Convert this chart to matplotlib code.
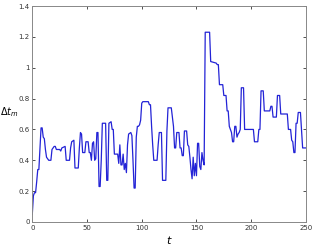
import matplotlib
matplotlib.use("Agg")
import matplotlib.pyplot as plt

t_vals = [0, 1, 2, 3, 4, 5, 6, 7, 8, 9, 10, 11, 12, 13, 14, 15, 17, 18, 19, 20, 21, 22, 25, 26, 27, 30,
          31, 34, 35, 36, 38, 39, 42, 43, 44, 45, 46, 48, 49, 51, 52, 53, 54, 55, 56, 57, 58, 59, 60,
          61, 62, 63, 64, 66, 67, 68, 69, 70, 72, 73, 74, 75, 78, 79, 80, 81, 82, 83, 84, 85, 86, 87,
          88, 90, 91, 92, 93, 94, 95, 96, 97, 98, 99, 100, 101, 106, 107, 108, 109, 110, 111, 114, 115,
          116, 118, 119, 122, 123, 124, 127, 128, 129, 130, 131, 132, 134, 135, 136, 137, 138, 139, 141,
          142, 143, 144, 145, 146, 147, 148, 149, 150, 151, 152, 153, 154, 155, 156, 157, 158, 162, 163,
          168, 169, 170, 171, 174, 175, 177, 178, 179, 180, 181, 182, 183, 184, 185, 186, 187, 188, 189,
          190, 191, 193, 194, 202, 203, 206, 207, 208, 209, 211, 212, 217, 218, 219, 220, 223, 224, 226,
          227, 233, 234, 236, 237, 238, 239, 240, 241, 242, 243, 245, 246, 247, 250]
dt_vals = [0.05, 0.17, 0.19, 0.19, 0.26, 0.34, 0.34, 0.48, 0.61, 0.61, 0.55, 0.54, 0.47, 0.42, 0.41, 0.40,
           0.40, 0.47, 0.48, 0.49, 0.49, 0.47, 0.47, 0.46, 0.48, 0.49, 0.40, 0.40, 0.48, 0.52, 0.53, 0.35,
           0.35, 0.48, 0.58, 0.57, 0.45, 0.45, 0.52, 0.52, 0.45, 0.45, 0.40, 0.51, 0.52, 0.40, 0.41, 0.58,
           0.58, 0.23, 0.23, 0.40, 0.64, 0.64, 0.64, 0.27, 0.27, 0.64, 0.65, 0.60, 0.60, 0.44, 0.44, 0.38,
           0.50, 0.37, 0.37, 0.44, 0.34, 0.38, 0.32, 0.50, 0.57, 0.58, 0.56, 0.40, 0.22, 0.22, 0.55, 0.62,
           0.62, 0.63, 0.66, 0.77, 0.78, 0.78, 0.76, 0.76, 0.62, 0.50, 0.40, 0.40, 0.50, 0.58, 0.58, 0.27,
           0.27, 0.59, 0.74, 0.74, 0.68, 0.62, 0.48, 0.48, 0.58, 0.58, 0.48, 0.48, 0.43, 0.43, 0.59, 0.59,
           0.50, 0.49, 0.42, 0.34, 0.28, 0.42, 0.30, 0.38, 0.30, 0.51, 0.51, 0.36, 0.34, 0.45, 0.40, 0.37,
           1.23, 1.23, 1.04, 1.03, 1.02, 1.02, 0.89, 0.89, 0.82, 0.82, 0.72, 0.72, 0.62, 0.60, 0.58, 0.52,
           0.52, 0.62, 0.62, 0.55, 0.57, 0.58, 0.60, 0.87, 0.87, 0.60, 0.60, 0.52, 0.52, 0.60, 0.60, 0.85,
           0.85, 0.72, 0.72, 0.75, 0.75, 0.68, 0.68, 0.82, 0.82, 0.70, 0.70, 0.60, 0.60, 0.53, 0.52, 0.45,
           0.45, 0.64, 0.64, 0.71, 0.71, 0.60, 0.48, 0.48]

x_ticks = [0, 50, 100, 150, 200, 250]
x_ticklabels = ["0", "50", "100", "150", "200", "250"]
y_ticks = [0, 0.2, 0.4, 0.6, 0.8, 1.0, 1.2, 1.4]
y_ticklabels = ["0", "0.2", "0.4", "0.6", "0.8", "1", "1.2", "1.4"]

fig = plt.figure(figsize=(3.12, 2.5), dpi=100)
ax = fig.add_axes([0.1035, 0.112, 0.877, 0.864])
ax.plot(t_vals, dt_vals, color="#2323d6", linewidth=0.9)
ax.set_xlim(0, 250)
ax.set_ylim(0, 1.4)
ax.set_xticks(x_ticks)
ax.set_xticklabels(x_ticklabels)
ax.set_yticks(y_ticks)
ax.set_yticklabels(y_ticklabels)
ax.tick_params(direction="in", length=2.5, width=0.6, labelsize=5, colors="#333333",
               top=True, right=True, pad=2)
for s in ax.spines.values():
    s.set_color("#888888")
    s.set_linewidth(0.7)
ax.set_xlabel(r"$t$", fontsize=8, labelpad=2)
ax.set_ylabel(r"$\Delta t_m$", fontsize=7, rotation=0, labelpad=2, ha="center", va="center")
ax.yaxis.set_label_coords(-0.083, 0.51)
fig.savefig("out.png", dpi=100)
